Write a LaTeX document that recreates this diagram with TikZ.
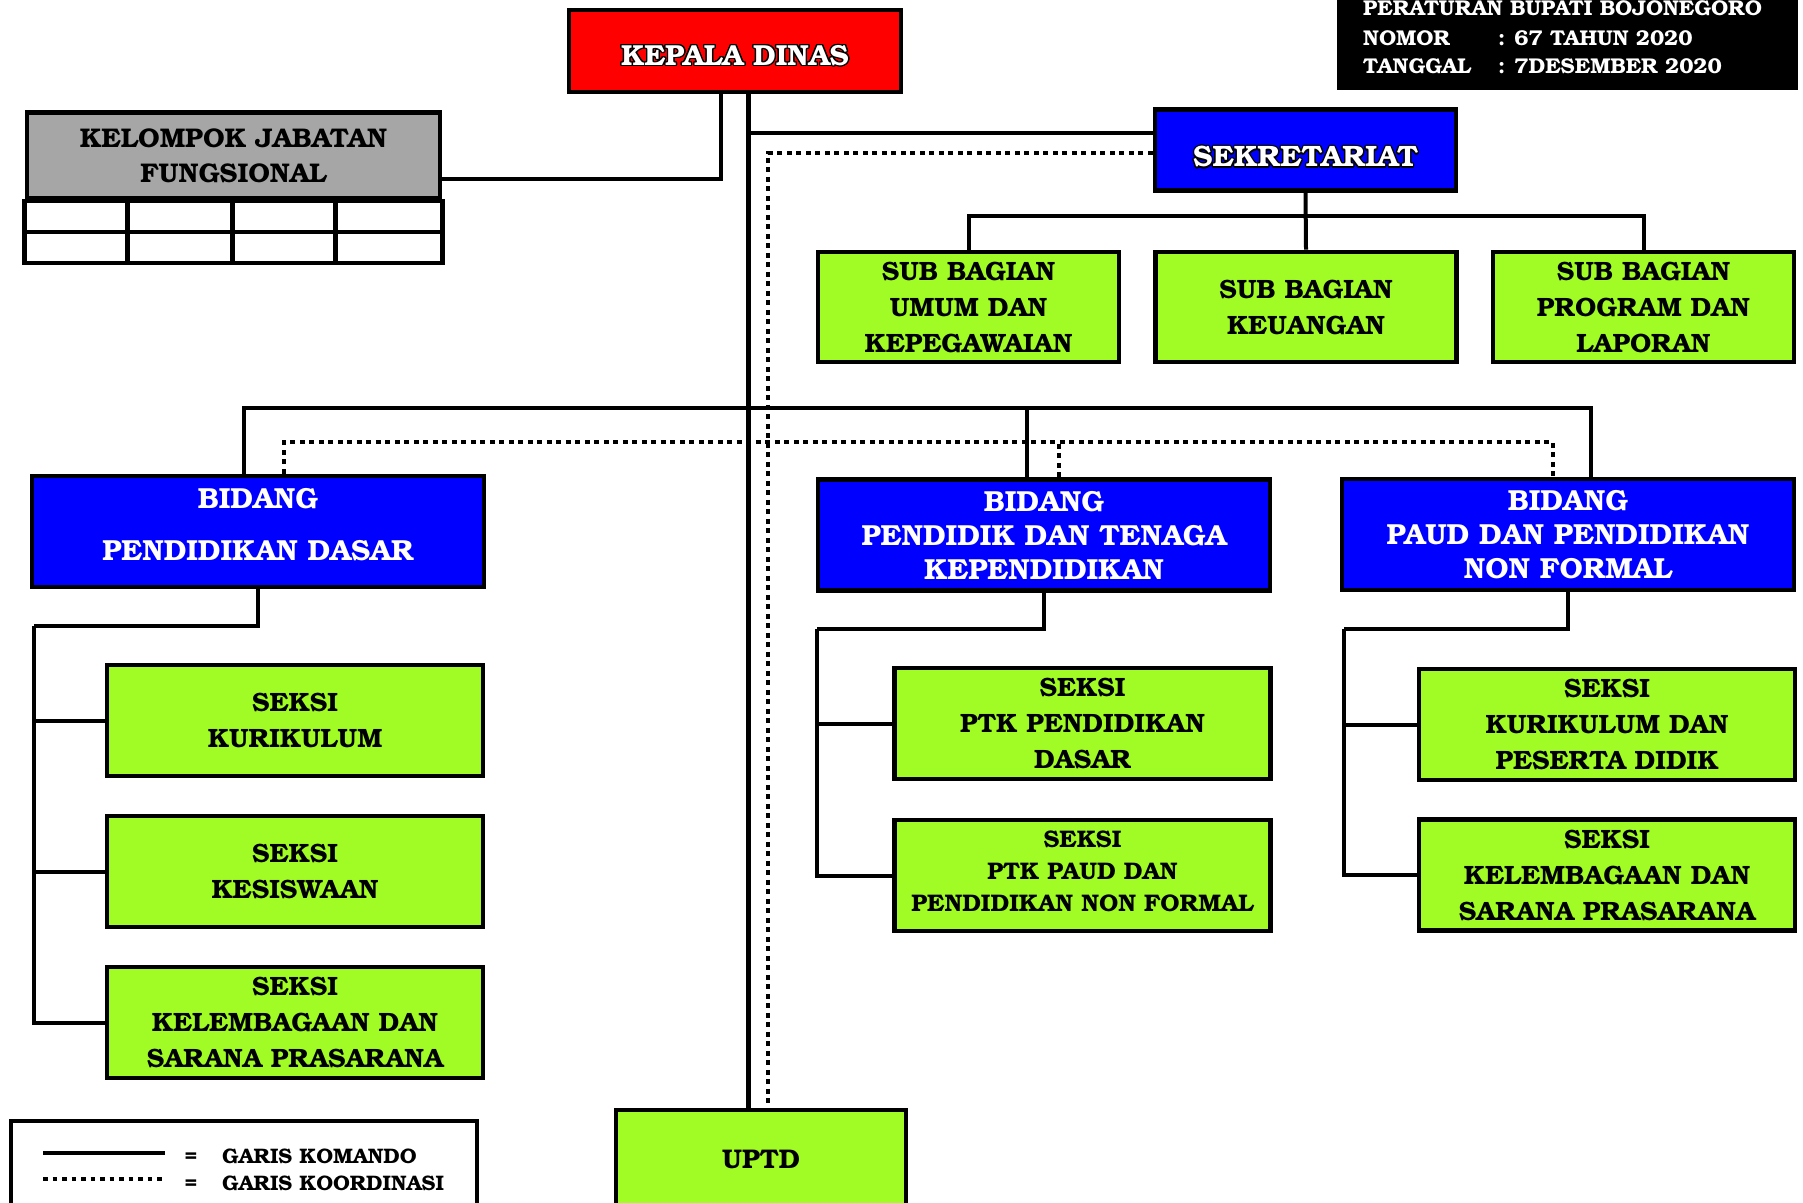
\documentclass[tikz,border=0pt]{standalone}
\usepackage[T1]{fontenc}
\usepackage{bookman}
\usepackage{contour}
\contourlength{1.3pt}
\definecolor{hijau}{RGB}{160,252,36}
\definecolor{biru}{RGB}{0,0,255}
\definecolor{merah}{RGB}{255,0,0}
\definecolor{abu}{RGB}{166,166,166}

\begin{document}
\begin{tikzpicture}[x=1pt,y=-1pt,
  kotak/.style={draw,line width=4.7pt,inner sep=0pt,align=center,font=\bfseries\fontsize{26.5}{36}\selectfont},
  subbag/.style={kotak,fill=hijau,minimum width=301pt,minimum height=110pt},
  seksi/.style={kotak,fill=hijau,minimum width=376pt,minimum height=111pt},
  bidang/.style={kotak,fill=biru,text=white,minimum width=452pt,minimum height=111pt,font=\bfseries\fontsize{29}{34}\selectfont},
  kop/.style={text=white,inner sep=0pt,font=\bfseries\fontsize{21.4}{29}\selectfont},
  ket/.style={inner sep=0pt,font=\bfseries\fontsize{21}{27}\selectfont},
  garis/.style={line width=4pt},
  koord/.style={line width=4.7pt,dash pattern=on 4.7pt off 4.8pt}]
\useasboundingbox (0,0) rectangle (1803,1202);
\clip (0,0) rectangle (1803,1202);

\fill (1337,-10) rectangle (1798,90);
\node[kop,anchor=base west] (kop1) at (1363,15) {PERATURAN BUPATI BOJONEGORO};
\node[kop,anchor=base west] (kop2) at (1363,45) {\makebox[135pt][l]{NOMOR}:\hspace{9pt}67 TAHUN 2020};
\node[kop,anchor=base west] (kop3) at (1363,73) {\makebox[135pt][l]{TANGGAL}:\hspace{9pt}7DESEMBER 2020};

\node[kotak,fill=merah,text=white,minimum width=332pt,minimum height=82pt,font=\bfseries\fontsize{29}{34}\selectfont] (kadis) at (735,51) {\rule{0pt}{31pt}\contour{black}{KEPALA DINAS}};
\node[kotak,fill=biru,text=white,minimum width=301pt,minimum height=81pt,font=\bfseries\fontsize{29.5}{34}\selectfont] (sekr) at (1305.5,150) {\rule{0pt}{36pt}\contour{black}{SEKRETARIAT}};
\node[kotak,fill=abu,minimum width=413pt,minimum height=86pt,font=\bfseries\fontsize{27}{35}\selectfont] (kjf) at (233.5,155.5) {KELOMPOK JABATAN\\FUNGSIONAL};
\draw[line width=4.5pt] (kjf.south west) rectangle ([yshift=-62pt]kjf.south east);
\draw[line width=4.5pt] ([yshift=-31pt]kjf.south west) -- ([yshift=-31pt]kjf.south east);
\foreach \x in {103,208,311}
  \draw[line width=4.5pt] ([xshift=\x pt]kjf.south west) -- ++(0,62);

\node[subbag] (sb1) at (968.5,307) {SUB BAGIAN\\UMUM DAN\\KEPEGAWAIAN};
\node[subbag] (sb2) at (1306,307) {SUB BAGIAN\\KEUANGAN};
\node[subbag] (sb3) at (1643.5,307) {SUB BAGIAN\\PROGRAM DAN\\LAPORAN};

\node[bidang] (bpd) at (258,531.5) {BIDANG\\[18pt]PENDIDIKAN DASAR\rule[-15pt]{0pt}{15pt}};
\node[bidang] (bptk) at (1044,535) {BIDANG\\PENDIDIK DAN TENAGA\\KEPENDIDIKAN};
\node[bidang] (bpaud) at (1568,534.5) {BIDANG\\PAUD DAN PENDIDIKAN\\NON FORMAL};

\node[seksi] (ks1) at (295,720.5) {SEKSI\\KURIKULUM};
\node[seksi] (ks2) at (295,871.5) {SEKSI\\KESISWAAN};
\node[seksi] (ks3) at (295,1022.5) {SEKSI\\KELEMBAGAAN DAN\\SARANA PRASARANA};
\node[seksi] (kp1) at (1082.5,723.5) {SEKSI\\PTK PENDIDIKAN\\DASAR};
\node[seksi,font=\bfseries\fontsize{24}{32}\selectfont] (kp2) at (1082.5,875.5) {SEKSI\\PTK PAUD DAN\\PENDIDIKAN NON FORMAL\rule[-10pt]{0pt}{10pt}};
\node[seksi] (ka1) at (1607,724.5) {SEKSI\\KURIKULUM DAN\\PESERTA DIDIK};
\node[seksi] (ka2) at (1607,875) {SEKSI\\KELEMBAGAAN DAN\\SARANA PRASARANA};

\node[kotak,fill=hijau,minimum width=290pt,minimum height=100pt,font=\bfseries\fontsize{27}{34}\selectfont] (uptd) at (761,1160) {UPTD};

\coordinate (ktop) at ([xshift=13pt]kadis.south);
\draw[garis] ([xshift=-14pt]kadis.south) |- ([yshift=-23.5pt]kjf.east);
\draw[garis,line width=5pt] (ktop) -- ([xshift=-13pt]uptd.north);
\draw[garis] ([yshift=17pt]sekr.west) -| (ktop);
\draw[koord] ([yshift=-3pt]sekr.west) -| ([xshift=7pt]uptd.north);

\draw[garis] (sekr.south) -- (sb2.north);
\draw[garis] (sb1.north) |- ([yshift=34pt]sb2.north) -| (sb3.north);

\coordinate (bidbus) at (ktop |- 0,408);
\draw[garis] ([xshift=-14pt]bpd.north) |- (bidbus) -| ([xshift=23pt]bpaud.north);
\draw[garis] (bidbus) -| ([xshift=-17pt]bptk.north);
\coordinate (kbus) at (769,442);
\draw[koord] ([xshift=26pt]bpd.north) |- (kbus) -| ([xshift=-15pt]bpaud.north);
\draw[koord] ([xshift=15pt]bptk.north) -- ++(0,-37.5);

\coordinate (lbus) at (34,626);
\draw[garis] (bpd.south) |- (lbus);
\foreach \s in {ks1,ks2,ks3}
  \draw[garis] (lbus) |- (\s.west);
\coordinate (pbus) at (817,629);
\draw[garis] (bptk.south) |- (pbus);
\foreach \s in {kp1,kp2}
  \draw[garis] (pbus) |- (\s.west);
\coordinate (abus) at (1344,629);
\draw[garis] (bpaud.south) |- (abus);
\foreach \s in {ka1,ka2}
  \draw[garis] (abus) |- (\s.west);

\draw[line width=4pt] (11,1121) rectangle (477,1240);
\draw[line width=4.5pt] (43,1153) -- (165,1153);
\draw[koord] (43,1179) -- (165,1179);
\node[ket,anchor=base] (sama1) at (191,1163) {=};
\node[ket,anchor=base west] (komando) at (222,1163) {GARIS KOMANDO};
\node[ket,anchor=base] (sama2) at (191,1190) {=};
\node[ket,anchor=base west] (koordinasi) at (222,1190) {GARIS KOORDINASI};
\end{tikzpicture}
\end{document}
